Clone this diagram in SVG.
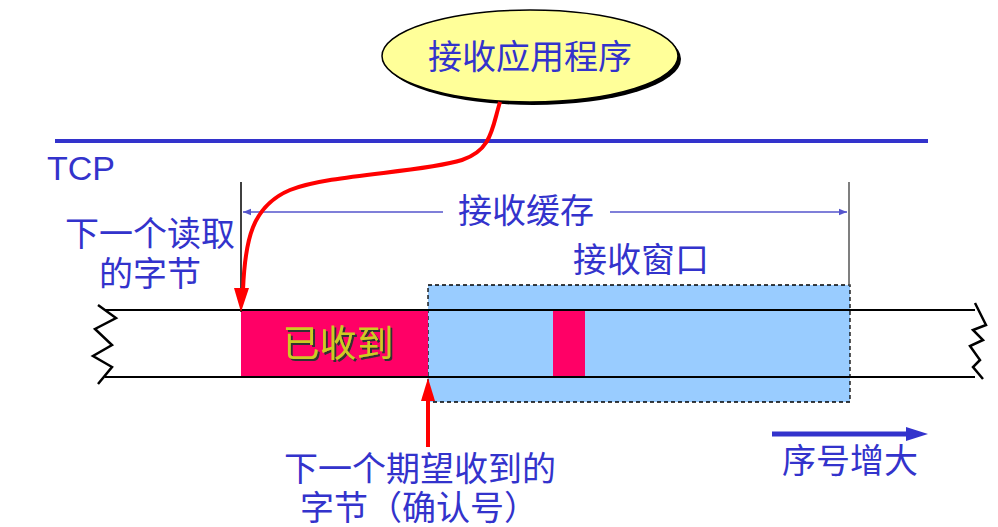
<svg xmlns="http://www.w3.org/2000/svg" width="998" height="527" viewBox="0 0 998 527">
<style>
.t{font-family:"Noto Sans CJK SC","Noto Sans",sans-serif;fill:#3333cc;font-size:32px}
.ln{stroke:#000;stroke-width:2;fill:none}
.zz{stroke:#000;stroke-width:2.5;fill:none}
.red{fill:#ff0066}
</style>
<defs>
<marker id="sa" viewBox="0 0 10 10" refX="10" refY="5" markerWidth="8" markerHeight="8" markerUnits="userSpaceOnUse" orient="auto-start-reverse"><path d="M0,1 L10,5 L0,9 z" fill="#5555cc"/></marker>
<filter id="sh" x="-10%" y="-10%" width="130%" height="140%"><feDropShadow dx="2" dy="2" stdDeviation="0.3" flood-color="#333" flood-opacity="1"/></filter>
</defs>
<rect width="998" height="527" fill="#fff"/>
<line x1="55" y1="141" x2="928" y2="141" stroke="#3333cc" stroke-width="4"/>
<text x="47" y="180" style="font-family:'Liberation Sans',Arial,sans-serif;font-size:34px;fill:#3333cc">TCP</text>
<g id="app">
<ellipse cx="533" cy="59" rx="148" ry="46" fill="#000"/>
<ellipse cx="530" cy="56" rx="148" ry="46" fill="#ffff99" stroke="#000" stroke-width="1.5"/>
<text class="t" x="530" y="69" text-anchor="middle" style="font-size:34px">接收应用程序</text>
</g>
<g id="window">
<rect x="428" y="285" width="422" height="117" fill="#99ccff" stroke="#000" stroke-width="1.3" stroke-dasharray="4,3"/>
</g>
<g id="received">
<rect class="red" x="241" y="310" width="187" height="67"/>
<text x="338" y="357" text-anchor="middle" filter="url(#sh)" style="font-family:'Noto Sans CJK SC',sans-serif;font-size:37px;fill:#cccc22">已收到</text>
</g>
<g id="seg">
<rect class="red" x="553" y="310" width="32" height="67"/>
</g>
<g id="track">
<line class="ln" x1="105" y1="310" x2="975" y2="310"/>
<line class="ln" x1="105" y1="377" x2="975" y2="377"/>
<polyline class="zz" points="98,305 116,318 95,329 112,345 93,356 112,367 98,384"/>
<polyline class="zz" points="975,303 986,325 973,330 983,340 970,346 980,360 973,367 983,379"/>
</g>
<g id="buffer">
<line x1="241" y1="182" x2="241" y2="312" stroke="#000" stroke-width="1.5"/>
<line x1="849" y1="182" x2="849" y2="286" stroke="#555" stroke-width="1.5"/>
<line x1="443" y1="212" x2="243" y2="212" stroke="#5555cc" stroke-width="1.5" marker-end="url(#sa)"/>
<line x1="610" y1="212" x2="847" y2="212" stroke="#5555cc" stroke-width="1.5" marker-end="url(#sa)"/>
<text class="t" x="526" y="223" text-anchor="middle" style="font-size:34px">接收缓存</text>
<text class="t" x="641" y="272" text-anchor="middle" style="font-size:34px">接收窗口</text>
</g>
<g id="connectors">
<path d="M500,102 C492,128 492,150 462,160 C420,173 330,174 290,190 C252,206 245,240 243,290" stroke="#ff0000" stroke-width="4" fill="none"/>
<polygon points="234,288 249,288 241,312" fill="#ff0000"/>
<line x1="428" y1="447" x2="428" y2="398" stroke="#ff0000" stroke-width="4"/>
<polygon points="421,401 435,401 428,378" fill="#ff0000"/>
<line x1="772" y1="434" x2="910" y2="434" stroke="#3333cc" stroke-width="5"/>
<polygon points="906,427 928,434 906,441" fill="#3333cc"/>
</g>
<g id="labels">
<text class="t" x="150" y="246" text-anchor="middle" style="font-size:34px">下一个读取</text>
<text class="t" x="150" y="286" text-anchor="middle" style="font-size:34px">的字节</text>
<text class="t" x="284" y="481" style="font-size:34px">下一个期望收到的</text>
<text class="t" x="300" y="520" style="font-size:34px">字节（确认号）</text>
<text class="t" x="782" y="473" style="font-size:34px">序号增大</text>
</g>
</svg>
